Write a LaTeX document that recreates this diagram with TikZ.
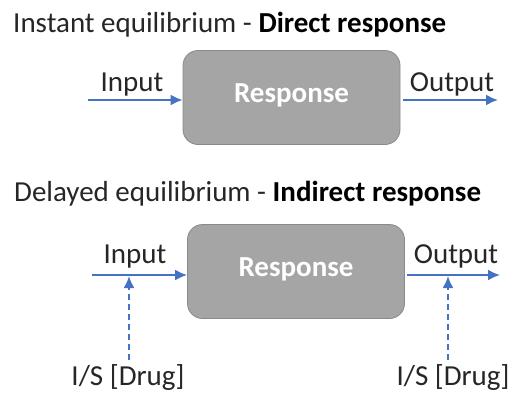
\documentclass[tikz,border=0pt]{standalone}
\usepackage{fontspec}
\setmainfont{Carlito}
\usepackage{tikz}
\usetikzlibrary{positioning,arrows.meta}
\definecolor{flowblue}{HTML}{4472C4}
\definecolor{boxgrey}{HTML}{A5A5A5}
\definecolor{boxedge}{HTML}{8A8A8A}
\definecolor{inkgrey}{HTML}{262626}

\tikzset{
  respbox/.style={rounded corners=15pt,fill=boxgrey,draw=boxedge,line width=0.8pt,
    minimum width=217pt,minimum height=94pt,inner sep=0pt},
  resptext/.style={anchor=base,text=white,font=\fontsize{29}{34}\selectfont\bfseries,yshift=2pt},
  flowlabel/.style={anchor=base,text=inkgrey,font=\fontsize{29}{34}\selectfont,inner sep=0pt},
  flow/.style={->,draw=flowblue,line width=2pt},
  drugline/.style={->,draw=flowblue,line width=2pt,dash pattern=on 6pt off 4pt}
}

\begin{document}
\begin{tikzpicture}[x=1pt,y=-1pt,>={Latex[length=12pt,width=11pt]}]
\useasboundingbox (0,0) rectangle (516,392);

    % direct response
    \node[flowlabel,anchor=base west] (title1) at (13,32)
        {Instant equilibrium - \textbf{\color{black}Direct response}};
    \node[respbox,label={[resptext]center:Response}] (resp1) at (291.5,97.5) {};
    \path
    (132,91)  node[flowlabel] (in1) {Input}
    (452,91)  node[flowlabel] (out1) {Output};
    \coordinate (src1) at (88,100);
    \coordinate (end1) at (498,100);

\draw[flow] (src1) -- (src1 -| resp1.west);
\draw[flow] (end1 -| resp1.east) ++(3,0) -- (end1);

    % indirect response
    \node[flowlabel,anchor=base west] (title2) at (14,201)
        {Delayed equilibrium - \textbf{\color{black}Indirect response}};
    \node[respbox,label={[resptext]center:Response}] (resp2) at (296,271.5) {};
    \path
    (135,263) node[flowlabel] (in2) {Input}
    (456,263) node[flowlabel] (out2) {Output}
    (128,385) node[flowlabel] (drug1) {I/S [Drug]}
    (453,385) node[flowlabel] (drug2) {I/S [Drug]};
    \coordinate (src2) at (92,275);
    \coordinate (end2) at (500,275);
    \coordinate (tap1) at (129,276);
    \coordinate (tap2) at (448,276);

\draw[flow] (src2) -- (src2 -| resp2.west);
\draw[flow] (end2 -| resp2.east) ++(2,0) -- (end2);
\draw[drugline] ([yshift=4pt]drug1.north -| tap1) -- (tap1);
\draw[drugline] ([yshift=4pt]drug2.north -| tap2) -- (tap2);

\end{tikzpicture}
\end{document}
